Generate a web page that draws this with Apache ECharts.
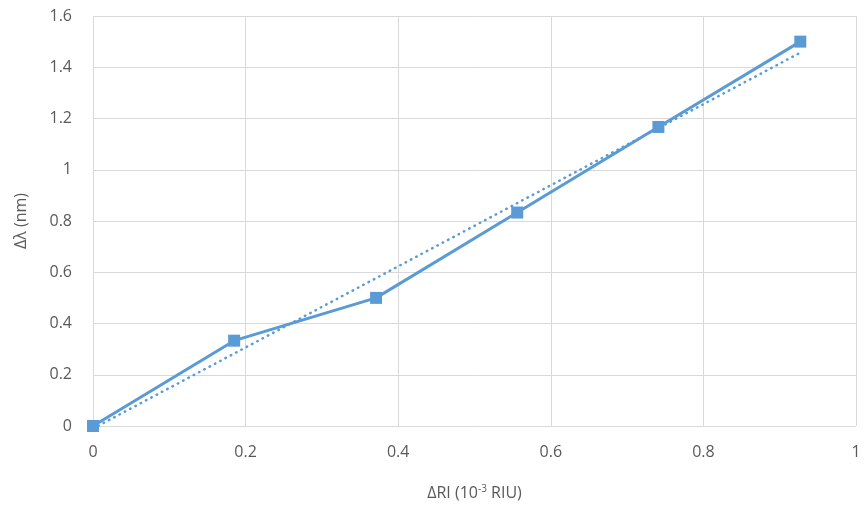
<!DOCTYPE html>
<html><head><meta charset="utf-8">
<script src="https://cdn.jsdelivr.net/npm/echarts@6/dist/echarts.min.js"></script>
<style>html,body{margin:0;padding:0;background:#fff}#c{width:866px;height:510px}</style>
</head><body><div id="c"></div>
<script>
const xValues = [0, 0.185, 0.371, 0.556, 0.741, 0.927];
const yValues = [0, 0.333, 0.5, 0.833, 1.167, 1.5];
const trendX = [0, 0.927];
const trendY = [-0.01, 1.457];
const xTicks = [0, 0.2, 0.4, 0.6, 0.8, 1];
const yTicks = [0, 0.2, 0.4, 0.6, 0.8, 1, 1.2, 1.4, 1.6];

const color = '#5B9BD5';
const txt = '#595959';
const font = 'Open Sans';
const chart = echarts.init(document.getElementById('c'), null, {renderer:'canvas'});
chart.setOption({
  animation: false,
  grid: {left: 93, right: 10, top: 16, bottom: 84},
  xAxis: {
    type: 'value', min: 0, max: 1, interval: 0.2,
    name: 'ΔRI (10{sup|-3} RIU)', nameLocation: 'middle', nameGap: 58,
    nameTextStyle: {color: txt, fontSize: 16, fontFamily: font, rich: {sup: {fontSize: 10, verticalAlign: 'top', padding:[0,0,8,0], color: txt, fontFamily: font}}},
    axisLine: {show: false}, axisTick: {show: false},
    splitLine: {show: true, lineStyle: {color: '#d9d9d9', width: 1}},
    axisLabel: {color: txt, fontSize: 16, fontFamily: font, margin: 18,
      formatter: v => String(parseFloat(v.toFixed(2)))}
  },
  yAxis: {
    type: 'value', min: 0, max: 1.6, interval: 0.2,
    name: 'Δλ (nm)', nameLocation: 'middle', nameGap: 64, nameRotate: 90,
    nameTextStyle: {color: txt, fontSize: 16, fontFamily: font},
    axisLine: {show: false}, axisTick: {show: false},
    splitLine: {show: true, lineStyle: {color: '#d9d9d9', width: 1}},
    axisLabel: {color: txt, fontSize: 16, fontFamily: font, margin: 21,
      formatter: v => String(parseFloat(v.toFixed(2)))}
  },
  series: [
    {
      type: 'line', data: trendX.map((x,i)=>[x, trendY[i]]),
      showSymbol: false, silent: true,
      lineStyle: {color: color, width: 2.5, type: [0.5, 5.5], cap: 'round'}
    },
    {
      type: 'line', data: xValues.map((x,i)=>[x, yValues[i]]),
      symbol: 'rect', symbolSize: 12,
      itemStyle: {color: color},
      lineStyle: {color: color, width: 3}
    }
  ]
});
</script></body></html>
